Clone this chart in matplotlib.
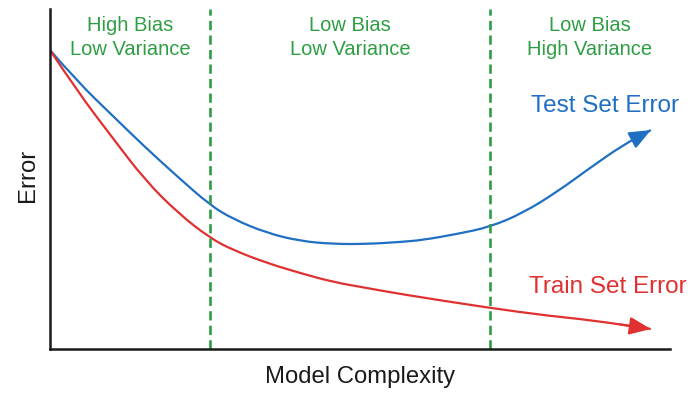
import matplotlib.pyplot as plt
from matplotlib.path import Path
from matplotlib.patches import PathPatch

plt.rcParams['font.family'] = ['Liberation Sans', 'DejaVu Sans']

# points (x = complexity, y = error), last point = arrow tip
test_x = [0, 28, 62, 95, 128, 160, 183, 217, 250, 283, 317, 350, 373, 407, 440, 473, 507, 540, 573, 601]
test_y = [299, 267, 234, 202, 172, 144, 130, 116, 108, 105, 105, 107, 109, 115, 122, 136, 157, 181, 204, 219]

train_x = [0, 28, 62, 95, 128, 160, 183, 217, 250, 283, 317, 350, 440, 500, 540, 601]
train_y = [299, 257, 212, 169, 136, 111, 99, 86, 76, 67, 61, 55, 41, 33, 29, 20]

split_x = [160, 440]
zone_labels = ["High Bias\nLow Variance", "Low Bias\nLow Variance", "Low Bias\nHigh Variance"]
zone_x = [80, 300, 540]

blue = "#1f6fc2"
red = "#e03030"
green = "#2e9e44"


def smooth_path(xs, ys):
    # quadratic bezier through midpoints, the read points act as control points
    pts = list(zip(xs, ys))
    verts = [pts[0]]
    codes = [Path.MOVETO]
    for i in range(1, len(pts) - 1):
        mid = ((pts[i][0] + pts[i + 1][0]) / 2, (pts[i][1] + pts[i + 1][1]) / 2)
        verts += [pts[i], mid]
        codes += [Path.CURVE3, Path.CURVE3]
    verts.append(pts[-1])
    codes.append(Path.LINETO)
    return Path(verts, codes)


fig, ax = plt.subplots(figsize=(6.97, 3.97), dpi=100)
fig.subplots_adjust(left=0.0717, right=0.961, bottom=0.121, top=0.977)

for xs, ys, col in [(test_x, test_y, blue), (train_x, train_y, red)]:
    path = smooth_path(xs, ys)
    ax.add_patch(PathPatch(path, fill=False, edgecolor=col, lw=1.6,
                           capstyle="butt", joinstyle="round"))
    # arrow head on the last straight piece of the path
    ax.annotate("", xy=tuple(path.vertices[-1]), xytext=tuple(path.vertices[-2]),
                arrowprops=dict(arrowstyle="-|>,head_length=0.65,head_width=0.27", color=col,
                                lw=1.6, mutation_scale=20, shrinkA=0, shrinkB=0))

for sx in split_x:
    ax.axvline(sx, color=green, lw=1.9, dashes=(3.5, 2.0))

for zx, lab in zip(zone_x, zone_labels):
    ax.text(zx, 312, lab, color=green, fontsize=14.5, ha="center", va="center", linespacing=1.32)

ax.text(555, 243, "Test Set Error", color=blue, fontsize=17.5, ha="center", va="center")
ax.text(558, 62, "Train Set Error", color=red, fontsize=17.5, ha="center", va="center")

ax.set_xlim(0, 620)
ax.set_ylim(0, 340)
ax.set_xticks([])
ax.set_yticks([])
for s in ["top", "right"]:
    ax.spines[s].set_visible(False)
for s in ["left", "bottom"]:
    ax.spines[s].set_linewidth(1.8)
    ax.spines[s].set_color("#1a1a1a")

ax.set_xlabel("Model Complexity", fontsize=17.2, color="#1a1a1a", labelpad=12)
ax.set_ylabel("Error", fontsize=17.2, color="#1a1a1a")
ax.yaxis.set_label_coords(-0.018, 0.51)

plt.savefig("out.png", dpi=100)
